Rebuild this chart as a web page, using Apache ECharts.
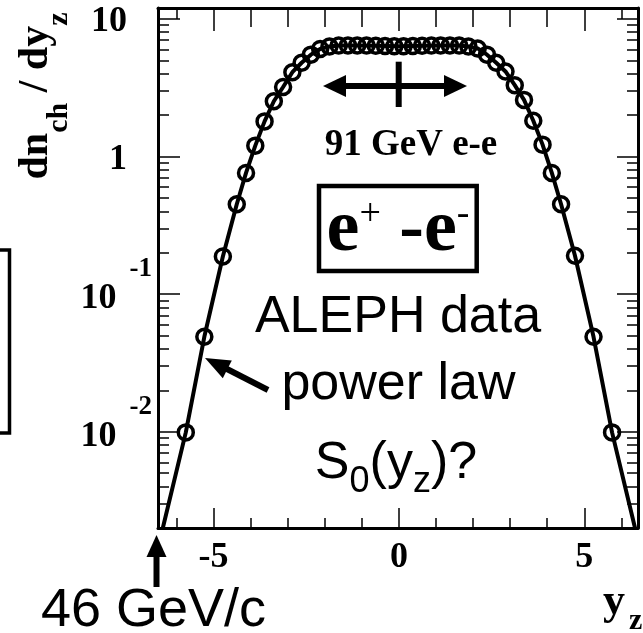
<!DOCTYPE html>
<html>
<head>
<meta charset="utf-8">
<script src="https://cdn.jsdelivr.net/npm/echarts@6/dist/echarts.min.js"></script>
<style>
html,body{margin:0;padding:0;background:#fff;}
#chart{width:643px;height:633px;}
</style>
</head>
<body>
<div id="chart"></div>
<script>
// ALEPH charged-particle rapidity distribution, 91 GeV e+e-
const yzValues = [-5.75, -5.25, -4.75, -4.375, -4.125, -3.875, -3.625, -3.375, -3.125, -2.875, -2.625,
  -2.375, -2.125, -1.875, -1.625, -1.375, -1.125, -0.875, -0.625, -0.375, -0.125,
  0.125, 0.375, 0.625, 0.875, 1.125, 1.375, 1.625, 1.875, 2.125, 2.375, 2.625,
  2.875, 3.125, 3.375, 3.625, 3.875, 4.125, 4.375, 4.75, 5.25, 5.75];
const dndyValues = [0.0099, 0.049, 0.188, 0.45, 0.76, 1.2, 1.8, 2.52, 3.2, 4.1, 4.8,
  5.5, 6.05, 6.3, 6.4, 6.42, 6.42, 6.4, 6.38, 6.35, 6.33,
  6.33, 6.35, 6.38, 6.4, 6.42, 6.42, 6.4, 6.3, 6.1, 5.5, 4.8,
  4.15, 3.3, 2.58, 1.82, 1.22, 0.76, 0.45, 0.19, 0.049, 0.0099];

// power-law curve, running down to the lower edge of the frame
const fitYz = [-6.37, -5.75, -5.25, -4.75, -4.375, -4.125, -3.875, -3.625, -3.375, -3.125, -2.875,
  -2.625, -2.375, -2.125, -1.875, -1.625, -1.125, -0.625, 0, 0.625, 1.125, 1.625, 1.875,
  2.125, 2.375, 2.625, 2.875, 3.125, 3.375, 3.625, 3.875, 4.125, 4.375, 4.75, 5.25, 5.75, 6.37];
const fitDndy = [0.002, 0.0099, 0.049, 0.188, 0.45, 0.76, 1.2, 1.8, 2.52, 3.2, 4.1,
  4.8, 5.5, 6.05, 6.3, 6.4, 6.42, 6.38, 6.33, 6.38, 6.42, 6.4, 6.3,
  6.1, 5.5, 4.8, 4.15, 3.3, 2.58, 1.82, 1.22, 0.76, 0.45, 0.19, 0.049, 0.0099, 0.002];

// axis ranges and ticks
const xRange = [-6.5, 6.45];
const yRange = [0.002, 12];
const xMajorTicks = [-5, 0, 5];
const xMinorTicks = [-6, -4, -3, -2, -1, 1, 2, 3, 4, 6];
const xTopMidTicks = [-4, -3, -2, -1, 1, 2, 3, 4];
const xTopShortTicks = [-6, 6];
const xTickLabels = ['-5', '0', '5'];
const yMajorTicks = [0.01, 0.1, 1, 10];
const yTickBase = ['10', '10', '1', '10'];
const yTickExp = ['-2', '-1', '', ''];
const yMinorTicks = [0.003, 0.004, 0.005, 0.006, 0.007, 0.008, 0.009,
  0.02, 0.03, 0.04, 0.05, 0.06, 0.07, 0.08, 0.09,
  0.2, 0.3, 0.4, 0.5, 0.6, 0.7, 0.8, 0.9,
  2, 3, 4, 5, 6, 7, 8, 9];

const SERIF = '"Liberation Serif", "Times New Roman", serif';
const SANS = '"Liberation Sans", Arial, sans-serif';
const BLACK = '#000';

function xAxisDef(pos, ticks, len, withLine, withLabels) {
  return {
    type: 'value', position: pos, min: xRange[0], max: xRange[1],
    axisLine: { show: withLine, onZero: false, lineStyle: { color: BLACK, width: 3 } },
    axisTick: { show: true, inside: true, length: len, customValues: ticks,
      lineStyle: { color: BLACK, width: 1.5 } },
    axisLabel: withLabels ? {
      show: true, customValues: ticks, margin: 12,
      color: BLACK, fontFamily: SERIF, fontWeight: 'bold', fontSize: 36,
      formatter: v => xTickLabels[xMajorTicks.indexOf(v)]
    } : { show: false },
    splitLine: { show: false }
  };
}

function yAxisDef(pos, ticks, len, withLine, withLabels) {
  return {
    type: 'log', position: pos, min: yRange[0], max: yRange[1],
    axisLine: { show: withLine, onZero: false, lineStyle: { color: BLACK, width: 3 } },
    axisTick: { show: true, inside: true, length: len, customValues: ticks,
      lineStyle: { color: BLACK, width: 1.5 } },
    axisLabel: withLabels ? {
      show: true, customValues: ticks, margin: 6, color: BLACK,
      formatter: v => {
        let i = 0, best = Infinity;
        yMajorTicks.forEach((t, k) => { const d = Math.abs(Math.log10(t) - Math.log10(v)); if (d < best) { best = d; i = k; } });
        return yTickExp[i] ? '{b|' + yTickBase[i] + '}{e|' + yTickExp[i] + '}' : '{n|' + yTickBase[i] + '}';
      },
      rich: {
        n: { fontFamily: SERIF, fontWeight: 'bold', fontSize: 36, color: BLACK, padding: [6, 25, 0, 0] },
        b: { fontFamily: SERIF, fontWeight: 'bold', fontSize: 36, color: BLACK, padding: [10, 0, 0, 0] },
        e: { fontFamily: SERIF, fontWeight: 'bold', fontSize: 27, color: BLACK, padding: [0, 0, 50, 13] }
      }
    } : { show: false },
    splitLine: { show: false }
  };
}

function txt(x, y, text, font, align) {
  return {
    type: 'text', x: x, y: y, silent: true,
    style: { text: text, font: font, fill: BLACK,
      align: align || 'center', textAlign: align || 'center',
      verticalAlign: 'middle', textVerticalAlign: 'middle' }
  };
}

const chart = echarts.init(document.getElementById('chart'), null, { renderer: 'canvas' });

chart.setOption({
  backgroundColor: '#fff',
  animation: false,
  grid: { left: 158, right: 5, top: 8, bottom: 105, containLabel: false },
  xAxis: [
    xAxisDef('bottom', xMajorTicks, 20, true, true),
    xAxisDef('bottom', xMinorTicks, 10, false, false),
    xAxisDef('top', xMajorTicks, 23, true, false),
    xAxisDef('top', xTopMidTicks, 19, false, false),
    xAxisDef('top', xTopShortTicks, 11, false, false)
  ],
  yAxis: [
    yAxisDef('left', yMajorTicks, 22, true, true),
    yAxisDef('left', yMinorTicks, 11, false, false),
    yAxisDef('right', yMajorTicks, 21, true, false),
    yAxisDef('right', yMinorTicks, 11, false, false)
  ],
  series: [
    {
      name: 'power law', type: 'line', xAxisIndex: 0, yAxisIndex: 0,
      data: fitYz.map((x, i) => [x, fitDndy[i]]),
      showSymbol: false, symbol: 'none', smooth: false,
      lineStyle: { color: BLACK, width: 4 }, z: 3
    },
    {
      name: 'ALEPH data', type: 'scatter', xAxisIndex: 0, yAxisIndex: 0,
      data: yzValues.map((x, i) => [x, dndyValues[i]]),
      symbol: 'circle', symbolSize: 15,
      itemStyle: { color: 'rgba(0,0,0,0)', borderColor: BLACK, borderWidth: 3.5, opacity: 1 }, z: 4
    }
  ],
  graphic: [
    // y-axis title, read bottom to top
    {
      type: 'group', x: 50, y: 96, rotation: Math.PI / 2, silent: true,
      children: [{
        type: 'text', x: 0, y: -14,
        style: {
          text: '{m|dn}{s|ch}{m| / dy}{s|z}', align: 'center', textAlign: 'center',
          verticalAlign: 'middle', textVerticalAlign: 'middle',
          rich: {
            m: { fontFamily: SERIF, fontWeight: 'bold', fontSize: 42, fill: BLACK, color: BLACK },
            s: { fontFamily: SERIF, fontWeight: 'bold', fontSize: 30, fill: BLACK, color: BLACK, padding: [46, 0, 0, 0] }
          }
        }
      }]
    },
    // x-axis title
    txt(603, 603, 'y', 'bold 44px ' + SERIF, 'left'),
    txt(629, 621, 'z', 'bold 30px ' + SERIF, 'left'),
    // arrow at the kinematic limit
    { type: 'line', silent: true, shape: { x1: 156.5, y1: 553, x2: 156.5, y2: 587 }, style: { stroke: BLACK, lineWidth: 6 } },
    { type: 'polygon', silent: true, shape: { points: [[156.5, 535], [146.5, 557], [166.5, 557]] }, style: { fill: BLACK } },
    txt(41, 611.6, '46 GeV/c', '54px ' + SANS, 'left'),
    // partly visible frame at the left edge
    { type: 'polyline', silent: true, shape: { points: [[-2, 250], [9.5, 250], [9.5, 433], [-2, 433]] }, style: { stroke: BLACK, lineWidth: 3.5, fill: null } },
    // rapidity-range marker
    { type: 'line', silent: true, shape: { x1: 340, y1: 86, x2: 450, y2: 86 }, style: { stroke: BLACK, lineWidth: 6 } },
    { type: 'polygon', silent: true, shape: { points: [[323, 86], [346, 75], [346, 97]] }, style: { fill: BLACK } },
    { type: 'polygon', silent: true, shape: { points: [[467, 86], [444, 75], [444, 97]] }, style: { fill: BLACK } },
    { type: 'line', silent: true, shape: { x1: 398.7, y1: 61.7, x2: 398.7, y2: 107 }, style: { stroke: BLACK, lineWidth: 6 } },
    txt(411, 145.5, '91 GeV e-e', 'bold 37px ' + SERIF, 'center'),
    // e+ - e- box
    { type: 'rect', silent: true, shape: { x: 319, y: 186, width: 157.7, height: 85 }, style: { stroke: BLACK, lineWidth: 4.5, fill: null } },
    {
      type: 'text', x: 398, y: 230.7, silent: true,
      style: {
        text: '{e|e}{p|+}{e| -e}{p|-}', align: 'center', textAlign: 'center',
        verticalAlign: 'middle', textVerticalAlign: 'middle',
        rich: {
          e: { fontFamily: SERIF, fontWeight: 'bold', fontSize: 74, fill: BLACK, color: BLACK },
          p: { fontFamily: SERIF, fontSize: 38, fill: BLACK, color: BLACK, padding: [0, 0, 32, 0] }
        }
      }
    },
    txt(398, 317.3, 'ALEPH data', '52px ' + SANS, 'center'),
    txt(398.5, 384.3, 'power law', '52px ' + SANS, 'center'),
    {
      type: 'text', x: 396, y: 463.8, silent: true,
      style: {
        text: '{m|S}{s|0}{m|(y}{s|z}{m|)?}', align: 'center', textAlign: 'center',
        verticalAlign: 'middle', textVerticalAlign: 'middle',
        rich: {
          m: { fontFamily: SANS, fontSize: 52, fill: BLACK, color: BLACK },
          s: { fontFamily: SANS, fontSize: 36, fill: BLACK, color: BLACK, padding: [37, 0, 0, 0] }
        }
      }
    },
    // arrow from the label to the curve
    { type: 'line', silent: true, shape: { x1: 268, y1: 390, x2: 225, y2: 368 }, style: { stroke: BLACK, lineWidth: 6 } },
    { type: 'polygon', silent: true, shape: { points: [[205, 358], [231.8, 360.4], [222.8, 378.2]] }, style: { fill: BLACK } }
  ]
});
</script>
</body>
</html>
